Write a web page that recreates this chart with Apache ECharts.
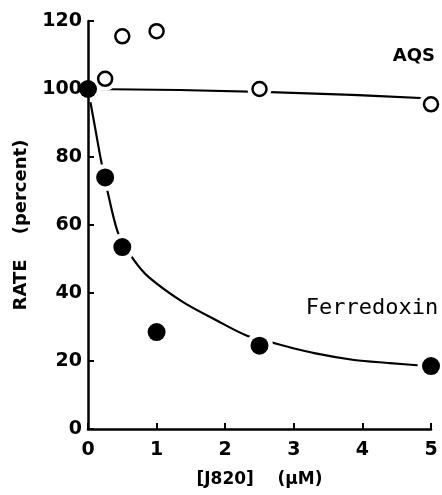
<!DOCTYPE html>
<html>
<head>
<meta charset="utf-8">
<script src="https://cdn.jsdelivr.net/npm/echarts@6/dist/echarts.min.js"></script>
<style>
  html, body { margin: 0; padding: 0; background: #fff; }
  #chart { width: 442px; height: 495px; }
</style>
</head>
<body>
<div id="chart"></div>
<script>
// measured points
var aqsX = [0, 0.25, 0.5, 1, 2.5, 5];
var aqsY = [100, 103, 115.5, 117, 100, 95.5];
var ferX = [0, 0.25, 0.5, 1, 2.5, 5];
var ferY = [100, 74, 53.5, 28.5, 24.5, 18.5];

// fitted curves
var aqsFitX = [0, 2.66, 5];
var aqsFitY = [100, 99.1, 97.2];
var ferFitX = [0, 0.1, 0.19, 0.3, 0.45, 0.67, 0.89, 1.38, 1.87, 2.3, 2.76, 3.3, 3.88, 4.4, 5];
var ferFitY = [100, 89, 79, 68.5, 57, 49.7, 44.6, 37.4, 32, 27.6, 25, 22.3, 20.3, 19.4, 18.4];

function pairs(xs, ys) {
  return xs.map(function (x, i) { return [x, ys[i]]; });
}

var font = 'DejaVu Sans';
var axisCommon = {
  type: 'value',
  z: 10,
  axisLine: { show: true, lineStyle: { color: '#000', width: 2.5 } },
  axisTick: { show: true, inside: true, length: 6, lineStyle: { color: '#000', width: 2 } },
  splitLine: { show: false },
  axisLabel: { color: '#000', fontFamily: font, fontWeight: 'bold', fontSize: 19 },
  nameLocation: 'middle',
  nameTextStyle: { color: '#000', fontFamily: font, fontWeight: 'bold', fontSize: 17 }
};

var chart = echarts.init(document.getElementById('chart'));
chart.setOption({
  backgroundColor: '#fff',
  animation: false,
  grid: { left: 88, right: 11, top: 21, bottom: 66 },
  xAxis: Object.assign({}, axisCommon, {
    min: 0, max: 5, interval: 1,
    name: '[J820]    (\u03bcM)',
    nameGap: 42,
    axisLabel: Object.assign({}, axisCommon.axisLabel, { margin: 12 })
  }),
  yAxis: Object.assign({}, axisCommon, {
    min: 0, max: 120, interval: 20,
    name: 'RATE    (percent)',
    nameGap: 58,
    nameTextStyle: Object.assign({}, axisCommon.nameTextStyle, { fontSize: 18 }),
    axisLabel: Object.assign({}, axisCommon.axisLabel, { margin: 6 })
  }),
  series: [
    {
      name: 'AQS fit', type: 'line', z: 1,
      data: pairs(aqsFitX, aqsFitY), smooth: true, symbol: 'none',
      lineStyle: { color: '#000', width: 2.2 }
    },
    {
      name: 'Ferredoxin fit', type: 'line', z: 1,
      data: pairs(ferFitX, ferFitY), smooth: 0.3, symbol: 'none',
      lineStyle: { color: '#000', width: 2.2 }
    },
    {
      name: 'AQS halo', type: 'scatter', z: 2, silent: true,
      data: pairs(aqsX, aqsY), symbol: 'circle', symbolSize: 24,
      itemStyle: { color: '#fff', opacity: 1 }
    },
    {
      name: 'Ferredoxin halo', type: 'scatter', z: 2, silent: true,
      data: pairs(ferX, ferY), symbol: 'circle', symbolSize: 27,
      itemStyle: { color: '#fff', opacity: 1 }
    },
    {
      name: 'AQS', type: 'scatter', z: 3,
      data: pairs(aqsX, aqsY), symbol: 'circle', symbolSize: 14,
      itemStyle: { color: '#fff', borderColor: '#000', borderWidth: 2.5, opacity: 1 },
      markPoint: {
        symbolSize: 0,
        data: [{ coord: [4.75, 109.7], value: 'AQS' }],
        label: { show: true, position: 'inside', formatter: 'AQS', color: '#000',
          fontFamily: font, fontWeight: 'bold', fontSize: 18 }
      }
    },
    {
      name: 'Ferredoxin', type: 'scatter', z: 4,
      data: pairs(ferX, ferY), symbol: 'circle', symbolSize: 18,
      itemStyle: { color: '#000', opacity: 1 },
      markPoint: {
        symbolSize: 0,
        data: [{ coord: [4.14, 35.6], value: 'Ferredoxin' }],
        label: { show: true, position: 'inside', formatter: 'Ferredoxin', color: '#000',
          fontFamily: 'DejaVu Sans Mono', fontSize: 22 }
      }
    }
  ]
});
</script>
</body>
</html>
